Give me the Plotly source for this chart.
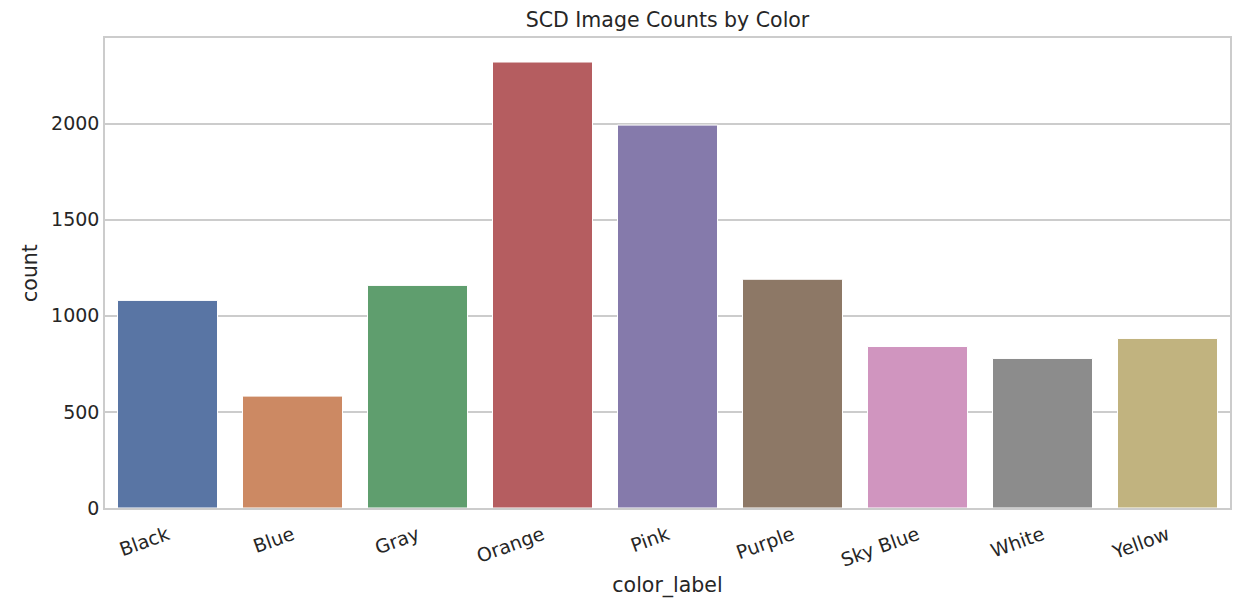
import plotly.graph_objects as go

categories = ["Black", "Blue", "Gray", "Orange", "Pink", "Purple", "Sky Blue", "White", "Yellow"]
counts = [1080, 582, 1158, 2320, 1992, 1190, 840, 778, 882]
bar_colors = ["#5975A4", "#CC8963", "#5F9E6E", "#B55D60", "#857AAB",
              "#8D7866", "#D095BF", "#8C8C8C", "#C1B37F"]
y_ticks = [0, 500, 1000, 1500, 2000]

fig = go.Figure(go.Bar(
    x=categories, y=counts,
    marker=dict(color=bar_colors, line=dict(color="white", width=1)),
    width=0.8,
))

fig.update_layout(
    width=1235, height=598,
    margin=dict(l=105, r=3, t=38, b=90),
    paper_bgcolor="white", plot_bgcolor="white",
    font=dict(family="DejaVu Sans", color="#262626", size=19),
    title=dict(text="SCD Image Counts by Color", x=0.5, xref="paper", xanchor="center",
               y=1 - 20 / 598, yref="container", yanchor="middle", font=dict(size=20.5)),
    showlegend=False,
)
fig.update_xaxes(
    title=dict(text="color_label", font=dict(size=20.5), standoff=8),
    tickangle=-20, showgrid=False, showline=True, linecolor="#cccccc",
    linewidth=1.5, mirror=True, ticks="", tickfont=dict(size=19),
    ticklabelstandoff=7,
    range=[-0.5, len(categories) - 0.5],
)
fig.update_yaxes(
    title=dict(text="count", font=dict(size=20.5), standoff=8),
    range=[0, 2445], tickvals=y_ticks, showgrid=True, gridcolor="#cccccc",
    gridwidth=1.5, showline=True, linecolor="#cccccc", linewidth=1.5,
    mirror=True, ticks="", zeroline=False, tickfont=dict(size=19),
)

fig.write_html("out.html", config={"displayModeBar": False},
               post_script="document.body.style.margin='0';document.body.style.overflow='hidden';")
